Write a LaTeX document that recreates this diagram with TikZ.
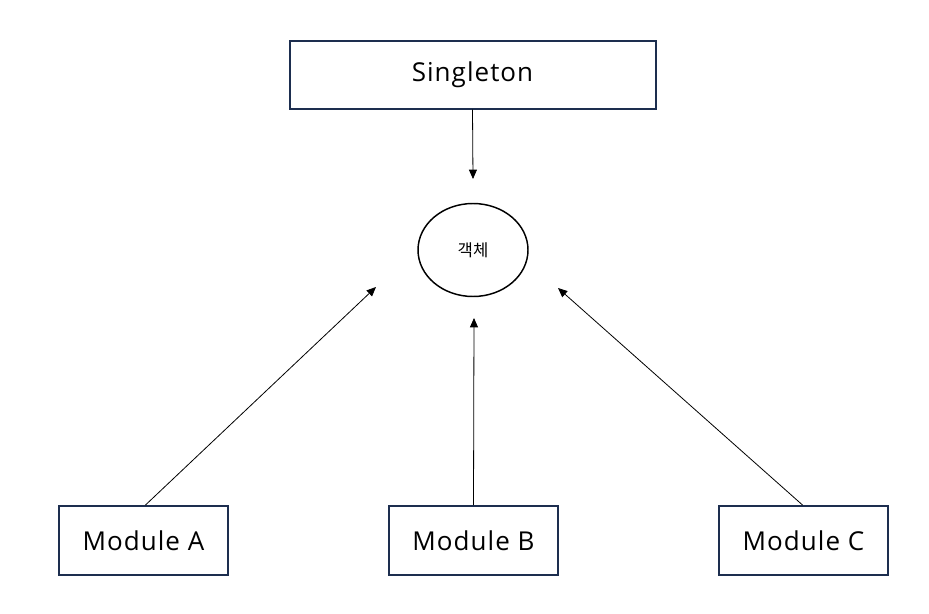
\documentclass[tikz,border=0pt]{standalone}
\usepackage{fontspec}
\setmainfont{Open Sans}
\newfontfamily\kofont{Noto Sans CJK KR}
\usetikzlibrary{arrows.meta,shapes.geometric}
\definecolor{navy}{HTML}{1D2E4F}
\tikzset{
  box/.style={draw=navy, line width=1.5pt, rectangle, inner sep=0pt, font=\addfontfeatures{LetterSpace=4}\fontsize{19.5}{22}\selectfont},
  obj/.style={draw=black, line width=1.1pt, ellipse, minimum width=110*0.75pt, minimum height=93*0.75pt, inner sep=0pt, font=\kofont\fontsize{12.5}{14}\selectfont},
  conn/.style={draw=black, line width=0.6pt, -{Triangle[length=7pt,width=6pt]}}
}
\begin{document}
\begin{tikzpicture}[x=0.75pt,y=-0.75pt]
\useasboundingbox (0,0) rectangle (929,614);
\node[box, minimum width=366*0.75pt, minimum height=68*0.75pt] (s) at (472.5,74.5) {Singleton};
\node[obj] (o) at (473,250) {객체};
\node[box, minimum width=169*0.75pt, minimum height=69*0.75pt] (a) at (143.5,540.5) {Module A};
\node[box, minimum width=169*0.75pt, minimum height=69*0.75pt] (b) at (473.5,540.5) {Module B};
\node[box, minimum width=169*0.75pt, minimum height=69*0.75pt] (c) at (803.5,540.5) {Module C};
\coordinate (ts) at (473,179);
\coordinate (ta) at (376,287);
\coordinate (tb) at (474,318);
\coordinate (tc) at (558,288);
\draw[conn] (s.south) -- (ts);
\draw[conn] ([xshift=2*0.75pt]a.north) -- (ta);
\draw[conn] (b.north) -- (tb);
\draw[conn] ([xshift=-1*0.75pt]c.north) -- (tc);
\end{tikzpicture}
\end{document}
